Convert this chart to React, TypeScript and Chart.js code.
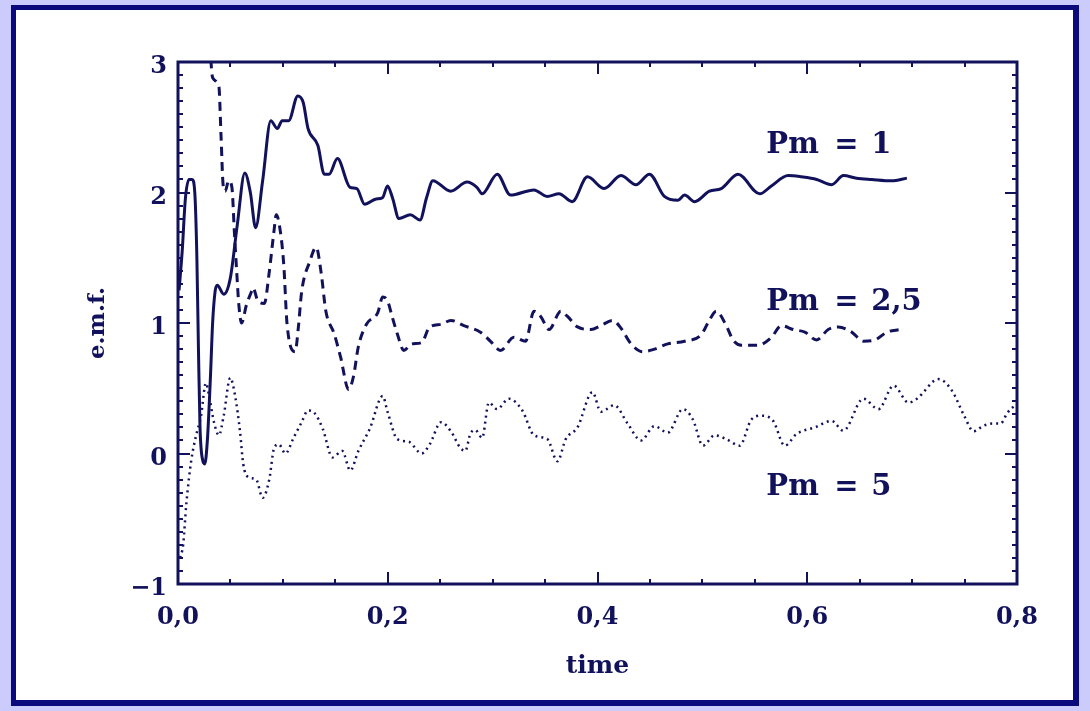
import React, { useEffect, useRef } from 'react';
import { Chart, registerables } from 'chart.js';

Chart.register(...registerables);

// ---- data ----
const pm1Time = [0.001, 0.004, 0.007, 0.0105, 0.0135, 0.016, 0.018, 0.0195, 0.021, 0.0235, 0.0255, 0.028, 0.031, 0.033, 0.0355, 0.0374, 0.0436, 0.0498, 0.0565, 0.0637, 0.069, 0.074, 0.0807, 0.0885, 0.0947, 0.0993, 0.1055, 0.1142, 0.1194, 0.124, 0.1334, 0.1395, 0.144, 0.152, 0.164, 0.1705, 0.178, 0.189, 0.195, 0.1998, 0.2045, 0.2107, 0.2215, 0.2308, 0.237, 0.243, 0.26, 0.2756, 0.285, 0.29, 0.3044, 0.317, 0.3394, 0.352, 0.3633, 0.3759, 0.3904, 0.4064, 0.4223, 0.4367, 0.4495, 0.4638, 0.4766, 0.483, 0.4926, 0.5068, 0.518, 0.534, 0.5547, 0.5658, 0.5818, 0.5945, 0.609, 0.6233, 0.6345, 0.647, 0.6615, 0.6806, 0.695];
const pm1Emf = [1.25, 1.55, 1.95, 2.1, 2.1, 2.0, 1.5, 0.8, 0.2, -0.05, -0.08, 0.1, 0.6, 1.0, 1.25, 1.29, 1.22, 1.34, 1.75, 2.15, 2.0, 1.73, 2.09, 2.55, 2.49, 2.55, 2.55, 2.74, 2.69, 2.49, 2.36, 2.14, 2.14, 2.26, 2.04, 2.03, 1.91, 1.95, 1.96, 2.05, 1.96, 1.8, 1.83, 1.79, 1.96, 2.09, 2.01, 2.08, 2.04, 1.99, 2.14, 1.98, 2.02, 1.97, 1.99, 1.93, 2.12, 2.03, 2.13, 2.06, 2.14, 1.97, 1.94, 1.98, 1.93, 2.01, 2.03, 2.14, 1.99, 2.05, 2.13, 2.12, 2.1, 2.06, 2.13, 2.11, 2.1, 2.09, 2.11];

const pm25Time = [0.0295, 0.033, 0.039, 0.041, 0.043, 0.045, 0.0483, 0.0514, 0.0538, 0.056, 0.058, 0.0606, 0.0653, 0.07, 0.0715, 0.0761, 0.0823, 0.087, 0.0916, 0.0937, 0.0978, 0.1009, 0.104, 0.1117, 0.1148, 0.1179, 0.1256, 0.1318, 0.1364, 0.141, 0.1488, 0.155, 0.1627, 0.1673, 0.172, 0.1797, 0.1905, 0.1952, 0.1998, 0.2045, 0.209, 0.2153, 0.223, 0.2323, 0.24, 0.2509, 0.2602, 0.2726, 0.2884, 0.298, 0.3075, 0.3203, 0.3314, 0.3394, 0.3458, 0.3538, 0.365, 0.3714, 0.381, 0.3936, 0.4032, 0.4144, 0.4224, 0.432, 0.4431, 0.4543, 0.467, 0.483, 0.4989, 0.5053, 0.5132, 0.5228, 0.5292, 0.5372, 0.5531, 0.5658, 0.5754, 0.5866, 0.5977, 0.6089, 0.62, 0.6296, 0.6424, 0.6535, 0.6647, 0.6759, 0.6886];
const pm25Emf = [3.25, 2.88, 2.81, 2.44, 2.06, 2.01, 2.09, 2.04, 1.69, 1.39, 1.14, 1.0, 1.14, 1.24, 1.27, 1.17, 1.15, 1.39, 1.71, 1.83, 1.69, 1.44, 0.99, 0.78, 0.97, 1.24, 1.47, 1.58, 1.39, 1.09, 0.92, 0.74, 0.49, 0.59, 0.82, 0.99, 1.08, 1.2, 1.17, 1.04, 0.92, 0.79, 0.84, 0.85, 0.97, 0.99, 1.02, 0.98, 0.93, 0.86, 0.79, 0.89, 0.86, 1.09, 1.05, 0.95, 1.09, 1.05, 0.97, 0.95, 0.98, 1.02, 0.96, 0.84, 0.78, 0.8, 0.84, 0.86, 0.91, 1.0, 1.09, 0.98, 0.87, 0.83, 0.83, 0.89, 0.98, 0.95, 0.93, 0.87, 0.95, 0.97, 0.93, 0.86, 0.87, 0.93, 0.95];

const pm5Time = [0.002, 0.0049, 0.008, 0.0127, 0.0173, 0.022, 0.0266, 0.0297, 0.0343, 0.039, 0.0436, 0.0498, 0.0545, 0.0591, 0.0622, 0.0668, 0.0746, 0.0807, 0.087, 0.0916, 0.0962, 0.1024, 0.1102, 0.1179, 0.124, 0.1302, 0.138, 0.1473, 0.1566, 0.1643, 0.172, 0.1829, 0.1952, 0.1998, 0.2091, 0.22, 0.2323, 0.24, 0.2509, 0.2602, 0.2695, 0.274, 0.2787, 0.2834, 0.29, 0.2964, 0.3043, 0.3155, 0.3283, 0.3394, 0.3522, 0.3618, 0.3697, 0.3809, 0.3952, 0.4032, 0.416, 0.4287, 0.4415, 0.4543, 0.467, 0.4814, 0.491, 0.5005, 0.5117, 0.5228, 0.5356, 0.5467, 0.5563, 0.5675, 0.5786, 0.5898, 0.6073, 0.6232, 0.6344, 0.6535, 0.6679, 0.6823, 0.6966, 0.7046, 0.7253, 0.7381, 0.749, 0.7588, 0.7675, 0.7768, 0.7845, 0.7907, 0.798];
const pm5Emf = [-0.8, -0.7, -0.38, -0.05, 0.14, 0.29, 0.54, 0.44, 0.24, 0.14, 0.29, 0.58, 0.44, 0.17, -0.08, -0.18, -0.2, -0.34, -0.2, 0.04, 0.07, 0.0, 0.12, 0.24, 0.33, 0.31, 0.19, -0.03, 0.02, -0.13, 0.02, 0.19, 0.44, 0.32, 0.11, 0.09, 0.0, 0.07, 0.24, 0.17, 0.04, 0.02, 0.15, 0.18, 0.12, 0.39, 0.34, 0.42, 0.33, 0.14, 0.11, -0.06, 0.11, 0.2, 0.47, 0.32, 0.37, 0.23, 0.1, 0.21, 0.16, 0.34, 0.26, 0.06, 0.14, 0.11, 0.06, 0.26, 0.29, 0.25, 0.06, 0.15, 0.2, 0.25, 0.175, 0.42, 0.34, 0.52, 0.39, 0.42, 0.57, 0.48, 0.3, 0.17, 0.21, 0.23, 0.23, 0.31, 0.37];

const xTickValues = [0, 0.2, 0.4, 0.6, 0.8];
const yTickValues = [-1, 0, 1, 2, 3];
const seriesLabels = ['Pm', '=', '1', '2,5', '5'];
const labelAnchors = [
  { time: 0.561, emf: 2.36, value: '1' },
  { time: 0.561, emf: 1.16, value: '2,5' },
  { time: 0.561, emf: -0.26, value: '5' },
];

const INK = '#12125c';
const FRAME = '#0a0a7c';
const LAVENDER = '#ccccfc';
const FONT = "'DejaVu Serif', 'Liberation Serif', serif";

const toPoints = (xs: number[], ys: number[]) => xs.map((x, i) => ({ x, y: ys[i] }));

const framePlugin = {
  id: 'frame',
  beforeDraw(chart: any) {
    const { ctx, width, height } = chart;
    ctx.save();
    ctx.fillStyle = LAVENDER;
    ctx.fillRect(0, 0, width, height);
    ctx.fillStyle = FRAME;
    ctx.fillRect(11, 5, 1068, 701);
    ctx.fillStyle = '#ffffff';
    ctx.fillRect(16, 10, 1057, 690);
    ctx.restore();
  },
  afterDatasetsDraw(chart: any) {
    const { ctx, chartArea } = chart;
    const xs = chart.scales.x;
    const ys = chart.scales.y;
    const { left, right, top, bottom } = chartArea;
    ctx.save();
    ctx.strokeStyle = INK;
    ctx.lineWidth = 3;
    ctx.strokeRect(left, top, right - left, bottom - top);
    ctx.lineWidth = 2;
    ctx.beginPath();
    for (let i = 0; i <= 16; i++) {
      const v = i * 0.05;
      const px = Math.round(xs.getPixelForValue(v));
      const len = i % 4 === 0 ? 12 : 5;
      ctx.moveTo(px, bottom);
      ctx.lineTo(px, bottom - len);
      ctx.moveTo(px, top);
      ctx.lineTo(px, top + len);
    }
    for (let i = 0; i <= 40; i++) {
      const v = -1 + i * 0.1;
      const py = Math.round(ys.getPixelForValue(v));
      const len = i % 10 === 0 ? 12 : 5;
      ctx.moveTo(left, py);
      ctx.lineTo(left + len, py);
      ctx.moveTo(right, py);
      ctx.lineTo(right - len, py);
    }
    ctx.stroke();

    ctx.fillStyle = INK;
    ctx.font = `bold 29px ${FONT}`;
    ctx.textBaseline = 'middle';
    ctx.textAlign = 'left';
    labelAnchors.forEach((a) => {
      const px = xs.getPixelForValue(a.time);
      const py = ys.getPixelForValue(a.emf);
      ctx.fillText(seriesLabels[0], px, py);
      ctx.fillText(seriesLabels[1], px + 68, py);
      ctx.fillText(a.value, px + 105, py);
    });
    ctx.restore();
  },
};

export default function App() {
  const ref = useRef<HTMLCanvasElement>(null);
  useEffect(() => {
    if (!ref.current) return;
    const chart = new Chart(ref.current, {
      type: 'line',
      data: {
        datasets: [
          {
            label: 'Pm = 1',
            data: toPoints(pm1Time, pm1Emf),
            borderColor: INK,
            borderWidth: 3,
            pointRadius: 0,
            cubicInterpolationMode: 'monotone',
          },
          {
            label: 'Pm = 2,5',
            data: toPoints(pm25Time, pm25Emf),
            borderColor: INK,
            borderWidth: 3,
            borderDash: [9, 6],
            pointRadius: 0,
            cubicInterpolationMode: 'monotone',
          },
          {
            label: 'Pm = 5',
            data: toPoints(pm5Time, pm5Emf),
            borderColor: INK,
            borderWidth: 2.5,
            borderDash: [2, 4],
            pointRadius: 0,
            cubicInterpolationMode: 'monotone',
          },
        ],
      },
      options: {
        responsive: false,
        animation: false,
        layout: { padding: { left: 0, top: 62, right: 73, bottom: 0 } },
        plugins: { legend: { display: false }, tooltip: { enabled: false } },
        scales: {
          x: {
            type: 'linear',
            min: 0,
            max: 0.8,
            grid: { display: false, drawTicks: false },
            border: { display: false },
            afterBuildTicks: (scale: any) => {
              scale.ticks = xTickValues.map((value) => ({ value }));
            },
            afterFit: (scale: any) => {
              scale.height = 127;
            },
            ticks: {
              color: INK,
              padding: 19,
              maxRotation: 0,
              autoSkip: false,
              font: { family: FONT, size: 24, weight: 'bold' },
              callback: (v: any) => Number(v).toFixed(1).replace('.', ','),
            },
            title: {
              display: true,
              text: 'time',
              color: INK,
              font: { family: FONT, size: 25, weight: 'bold' },
              padding: { top: 0, bottom: 30 },
            },
          },
          y: {
            type: 'linear',
            min: -1,
            max: 3,
            grid: { display: false, drawTicks: false },
            border: { display: false },
            afterBuildTicks: (scale: any) => {
              scale.ticks = yTickValues.map((value) => ({ value }));
            },
            afterFit: (scale: any) => {
              scale.width = 178;
            },
            ticks: {
              color: INK,
              padding: 11,
              labelOffset: 5,
              autoSkip: false,
              font: { family: FONT, size: 24, weight: 'bold' },
              callback: (v: any) => (Number(v) < 0 ? '\u2212' + Math.abs(Number(v)) : String(v)),
            },
            title: {
              display: true,
              text: 'e.m.f.',
              color: INK,
              font: { family: FONT, size: 23, weight: 'bold' },
              padding: { top: 84, bottom: 0 },
            },
          },
        },
      } as any,
      plugins: [framePlugin],
    });
    return () => chart.destroy();
  }, []);
  return (
    <div style={{ position: 'fixed', left: 0, top: 0, width: 1090, height: 711 }}>
      <canvas ref={ref} width={1090} height={711} style={{ display: 'block', width: 1090, height: 711 }} />
    </div>
  );
}
